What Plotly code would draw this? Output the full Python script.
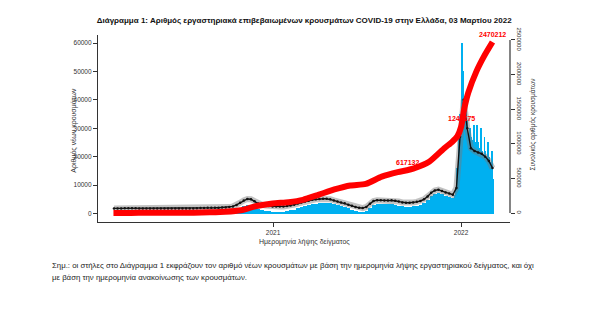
import pandas as pd
import plotly.graph_objects as go

# ---------------- data ----------------
# weekly level of daily new cases (week starting 2020-02-24)
weekly_cases = [
    2, 10, 40, 70, 90, 80, 60, 40, 30, 15, 10, 8, 8, 10, 10, 15, 25, 20, 20, 25,
    25, 35, 60, 120, 200, 220, 230, 200, 250, 300, 320, 350, 420, 600, 950, 1700,
    2500, 3000, 3100, 2400, 1700, 1300, 950, 800, 700,
    650, 650, 700, 850, 1100, 1400, 1900, 2400, 2700, 3000, 3300, 3500, 3600,
    3800, 3800, 3600, 3200, 2900, 2600, 2300, 1900, 1400, 1000, 700, 600, 900,
    2000, 3100, 3300, 3300, 3200, 3300, 3300, 3100, 2800, 2500, 2400, 2400, 2500,
    2700, 3000, 3600, 4600, 6000, 7000, 7300, 6800, 6300, 5800, 5300,
]
weekly_start = "2020-02-24"

# daily new cases from 2021-12-20 to 2022-03-03
daily_cases = [
    6500, 7500, 9000, 12000, 16000, 10000, 9000, 21000, 27000, 29000, 35000, 30000,
    22000, 28000, 60000, 50000, 45000, 38000, 40000, 31000, 26000, 36000, 34000,
    33000, 30000, 28000, 24000, 20000, 28000, 30000, 27000, 26000, 25000, 21000,
    17000, 26000, 31000, 26000, 25000, 24000, 20000, 15000, 25000,
    31000, 25000, 24000, 23000, 19000, 14000, 23000, 30000, 24000, 22000, 21000,
    17000, 12000, 21000, 27000, 22000, 21000, 20000, 16000, 11000, 19000, 25000,
    20000, 19000, 18000, 14000, 10000, 17000,
    22000, 19000, 12000,
]
daily_start = "2021-12-20"

# labelled level line (black), weekly, mid-week from 2020-02-27
label_line = [
    1800, 1800, 1800, 1850, 1850, 1850, 1850, 1800, 1800, 1800, 1750, 1750, 1750,
    1750, 1750, 1750, 1750, 1750, 1750, 1750, 1750, 1800, 1800, 1850, 1900, 1950,
    2000, 2000, 2000, 2050, 2100, 2150, 2250, 2500, 3000, 3800, 4600, 5100, 5000,
    4300, 3500, 3100, 2800, 2600, 2500,
    2450, 2450, 2500, 2600, 2800, 3100, 3500, 3900, 4200, 4500, 4800, 5000, 5100,
    5200, 5200, 5000, 4600, 4200, 3900, 3600, 3100, 2700, 2300, 2000, 1900, 2300,
    3400, 4400, 4700, 4700, 4600, 4600, 4700, 4500, 4200, 3900, 3800, 3800, 3900,
    4100, 4400, 5000, 6000, 7300, 8100, 8400, 7900, 7400, 7000, 6600,
    9000, 27000, 40000, 30000, 23000, 22000, 21500, 21000, 20000, 18500, 16000,
]
label_start = "2020-02-27"

# cumulative cases (right axis)
cum_dates = [
    "2020-02-26", "2020-03-31", "2020-04-30", "2020-05-31", "2020-06-30",
    "2020-07-31", "2020-08-31", "2020-09-30", "2020-10-31", "2020-11-30",
    "2020-12-31", "2021-01-31", "2021-02-28", "2021-03-31", "2021-04-30",
    "2021-05-31", "2021-06-30", "2021-07-31", "2021-08-31", "2021-09-18",
    "2021-09-30", "2021-10-31", "2021-11-30", "2021-12-15", "2021-12-25",
    "2022-01-01", "2022-01-07", "2022-01-15", "2022-01-31", "2022-02-15",
    "2022-03-03",
]
cum_values = [
    0, 1300, 2600, 2900, 3400, 4500, 10000, 18500, 40000, 101000, 138000,
    156000, 190000, 265000, 340000, 398000, 420000, 525000, 590000, 617132,
    640000, 740000, 940000, 1030000, 1110000, 1243675, 1500000, 1740000,
    2050000, 2270000, 2470212,
]
labelled_cum = ["2021-09-18", "2022-01-01", "2022-03-03"]

title = ("Διάγραμμα 1: Αριθμός εργαστηριακά επιβεβαιωμένων κρουσμάτων "
         "COVID-19 στην Ελλάδα, 03 Μαρτίου 2022")
y_title = "Αριθμός νέων κρουσμάτων"
y2_title = "Συνολικός αριθμός κρουσμάτων"
x_title = "Ημερομηνία λήψης δείγματος"
note1 = ("Σημ.: οι στήλες στο Διάγραμμα 1 εκφράζουν τον αριθμό νέων κρουσμάτων "
         "με βάση την ημερομηνία λήψης εργαστηριακού δείγματος, και όχι")
note2 = "με βάση την ημερομηνία ανακοίνωσης των κρουσμάτων."
x_ticks = ["2021-01-01", "2022-01-01"]
x_ticktext = ["2021", "2022"]
y_ticks = [0, 10000, 20000, 30000, 40000, 50000, 60000]
y2_ticks = [0, 500000, 1000000, 1500000, 2000000, 2500000]

# ---------------- figure ----------------
FONT = "Liberation Sans"
BLUE = "#00B0F0"
RED = "#FF0000"
DAY_MS = 86400000

w_dates = pd.date_range(weekly_start, periods=len(weekly_cases), freq="7D")
d_dates = pd.date_range(daily_start, periods=len(daily_cases), freq="D")
l_dates = pd.date_range(label_start, periods=len(label_line), freq="7D")

fig = go.Figure()
fig.add_trace(go.Bar(x=w_dates, y=weekly_cases, width=7 * DAY_MS, offset=0,
                     marker=dict(color=BLUE, line=dict(width=0)), yaxis="y"))
fig.add_trace(go.Bar(x=d_dates, y=daily_cases, width=1.6 * DAY_MS,
                     offset=-0.3 * DAY_MS,
                     marker=dict(color=BLUE, line=dict(width=0)), yaxis="y"))
fig.add_trace(go.Scatter(x=l_dates, y=label_line, mode="lines",
                         line=dict(color="rgba(120,120,120,0.45)", width=6),
                         yaxis="y"))
fig.add_trace(go.Scatter(x=l_dates, y=label_line, mode="lines+markers",
                         line=dict(color="#111111", width=1.4),
                         marker=dict(color="#111111", size=2.5),
                         yaxis="y"))
fig.add_trace(go.Scatter(x=pd.to_datetime(cum_dates), y=cum_values, mode="lines",
                         line=dict(color=RED, width=6, shape="spline", smoothing=0.6),
                         yaxis="y2"))

for d in labelled_cum:
    v = cum_values[cum_dates.index(d)]
    fig.add_annotation(x=d, y=v, xref="x", yref="y2", text=str(v),
                       showarrow=False, yshift=8,
                       font=dict(family=FONT, size=7, color=RED, weight="bold"))

fig.update_layout(
    width=600, height=331,
    margin=dict(l=98, r=90, t=35, b=109),
    paper_bgcolor="white", plot_bgcolor="white",
    showlegend=False, barmode="overlay", bargap=0,
    font=dict(family=FONT, color="#333333"),
    title=dict(text=title, x=0.507, xanchor="center", y=1 - 20 / 331,
               yanchor="middle",
               font=dict(family=FONT, size=8, color="#111111", weight="bold")),
    xaxis=dict(type="date", range=["2020-01-27", "2022-04-06"],
               tickvals=x_ticks, ticktext=x_ticktext,
               showgrid=False, zeroline=False, showline=True,
               linecolor="#333333", linewidth=1,
               ticks="outside", ticklen=4, tickcolor="#333333",
               tickfont=dict(family=FONT, size=6.5, color="#333333")),
    yaxis=dict(range=[-2990, 62815], tickvals=y_ticks,
               ticktext=[str(v) for v in y_ticks],
               showgrid=False, zeroline=False, showline=True,
               linecolor="#333333", linewidth=1.2,
               ticks="outside", ticklen=4, tickcolor="#333333",
               tickfont=dict(family=FONT, size=6.5, color="#333333")),
    yaxis2=dict(overlaying="y", side="right", range=[-130000, 2572000],
                tickvals=y2_ticks, ticktext=[str(v) for v in y2_ticks],
                tickangle=90,
                showgrid=False, zeroline=False, showline=False,
                ticks="outside", ticklen=4, tickcolor="#333333",
                tickfont=dict(family=FONT, size=6, color="#333333")),
)

# right axis line spanning 0..2.5M
fig.add_shape(type="line", xref="paper", x0=1, x1=1, yref="y2",
              y0=y2_ticks[0], y1=y2_ticks[-1],
              line=dict(color="#333333", width=1.2))

fig.add_annotation(text=y_title, xref="paper", yref="paper",
                   x=-0.072, y=0.49, textangle=-90, showarrow=False,
                   font=dict(family=FONT, size=7, color="#333333"))
fig.add_annotation(text=y2_title, xref="paper", yref="paper",
                   x=1.07, y=0.52, textangle=-90, showarrow=False,
                   font=dict(family=FONT, size=6.5, color="#333333"))
fig.add_annotation(text=x_title, xref="paper", yref="paper",
                   x=0.5, y=-0.139, showarrow=False,
                   font=dict(family=FONT, size=7, color="#333333"))
fig.add_annotation(text=note1, xref="paper", yref="paper",
                   x=-0.1165, y=-0.267, xanchor="left", showarrow=False,
                   font=dict(family=FONT, size=7.8, color="#222222"))
fig.add_annotation(text=note2, xref="paper", yref="paper",
                   x=-0.1165, y=-0.332, xanchor="left", showarrow=False,
                   font=dict(family=FONT, size=7.8, color="#222222"))

fig.write_html("out.html")
